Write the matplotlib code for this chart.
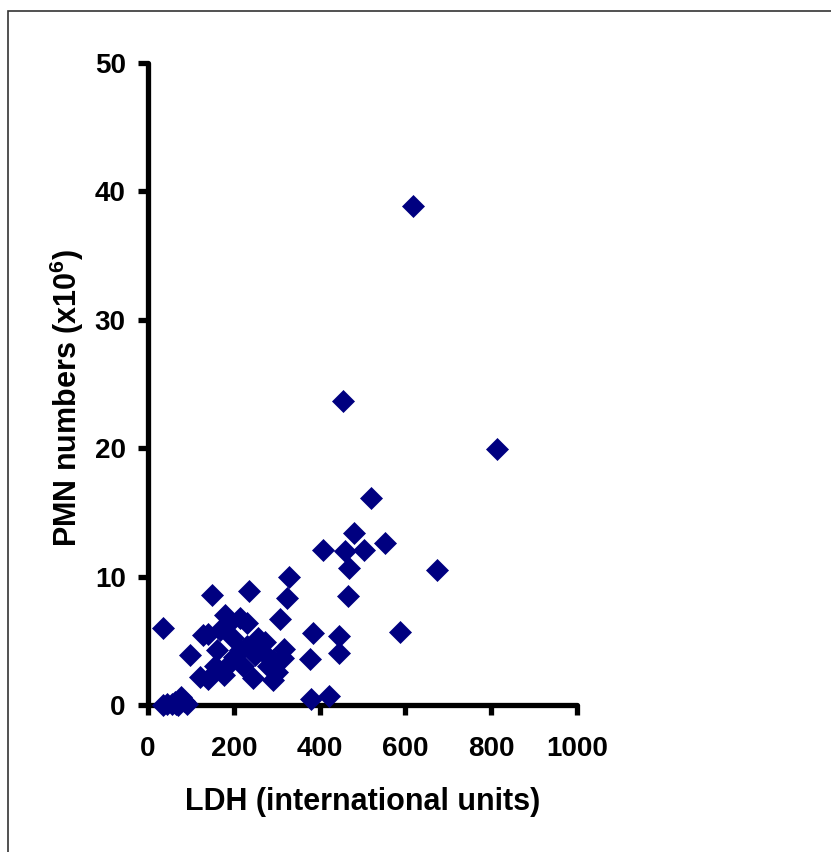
import matplotlib
matplotlib.use("Agg")
import matplotlib.pyplot as plt
from matplotlib.patches import Rectangle

plt.rcParams['font.family'] = ['Liberation Sans', 'DejaVu Sans']
plt.rcParams['mathtext.fontset'] = 'custom'
plt.rcParams['mathtext.rm'] = 'Liberation Sans:bold'
plt.rcParams['mathtext.bf'] = 'Liberation Sans:bold'
plt.rcParams['mathtext.it'] = 'Liberation Sans:bold'

ldh = [617, 455, 813, 520, 481, 407, 459, 503, 552, 469, 673, 328, 235, 150,
       467, 323, 308, 36, 385, 446, 378, 446, 379, 423, 99, 121, 588,
       180, 214, 230, 129, 168, 199, 257, 273, 316, 160, 214, 249, 315, 156,
       183, 222, 292, 245, 292, 176, 140, 190, 265, 230, 200, 280, 300, 140,
       35, 45, 55, 62, 70, 78, 85, 92, 65]
pmn = [38.9, 23.65, 19.9, 16.1, 13.4, 12.07, 12.0, 12.07, 12.6, 10.7, 10.5, 9.95, 8.9, 8.55,
       8.5, 8.3, 6.7, 6.02, 5.57, 5.37, 3.58, 4.05, 0.44, 0.7, 3.9, 2.2, 5.7,
       7.0, 6.75, 6.36, 5.45, 5.84, 5.19, 5.19, 4.93, 4.4, 4.28, 4.28, 3.9, 3.63, 3.0,
       3.0, 3.0, 3.5, 2.07, 1.95, 2.34, 5.5, 6.5, 4.2, 4.6, 3.7, 3.0, 2.6, 2.0,
       0.0, 0.1, 0.05, 0.2, 0.0, 0.6, 0.3, 0.1, 0.05]

x_ticks = [0, 200, 400, 600, 800, 1000]
y_ticks = [0, 10, 20, 30, 40, 50]

fig = plt.figure(figsize=(8.31, 8.52), dpi=100)
fig.patches.append(Rectangle((8/831, -0.1), 1.2, 1 - 11/852 + 0.1,
                             transform=fig.transFigure, fill=False,
                             edgecolor='#333333', linewidth=1.2))
ax = fig.add_axes([148/831, 1 - 705/852, 429/831, 642/852])
ax.plot(ldh, pmn, linestyle='none', marker='D', markersize=10.8,
        markerfacecolor='#000080', markeredgecolor='#000080', markeredgewidth=0.5,
        clip_on=False, zorder=3)
ax.set_xlim(0, 1000)
ax.set_ylim(0, 50)
ax.set_xticks(x_ticks)
ax.set_yticks(y_ticks)
for s in ['top', 'right']:
    ax.spines[s].set_visible(False)
for s in ['left', 'bottom']:
    ax.spines[s].set_linewidth(3.8)
    ax.spines[s].set_capstyle('round')
ax.tick_params(axis='both', direction='out', length=7, width=3.8, labelsize=20)
ax.tick_params(axis='x', pad=15)
ax.tick_params(axis='y', pad=9)
for lab in ax.get_xticklabels() + ax.get_yticklabels():
    lab.set_fontweight('bold')
ax.set_xlabel('LDH (international units)', fontsize=22, fontweight='bold')
ax.xaxis.set_label_coords(0.5, -0.128)
ax.xaxis.label.set_verticalalignment('top')
ax.set_ylabel(r'PMN numbers (x10$^{6}$)', fontsize=22, fontweight='bold')
ax.yaxis.set_label_coords(-0.145, 0.478)
fig.savefig('out.png', dpi=100)
